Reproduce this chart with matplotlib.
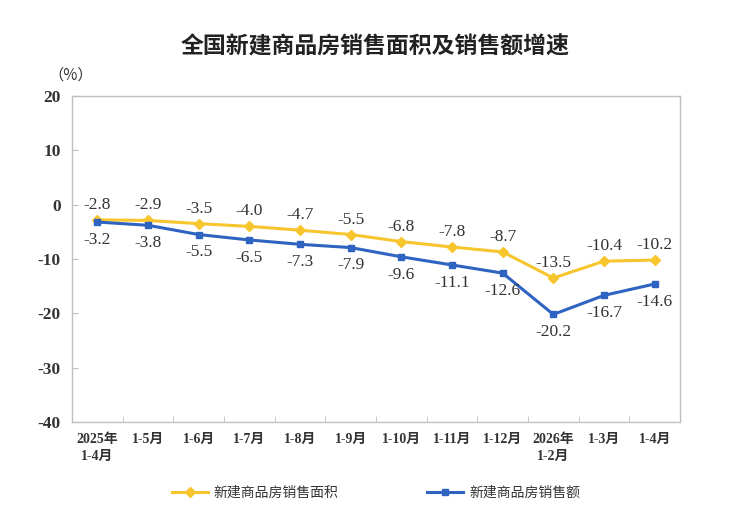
import matplotlib
matplotlib.use("Agg")
import matplotlib.pyplot as plt
import numpy as np

plt.rcParams['font.family'] = ['Liberation Serif', 'Noto Sans CJK SC']

categories = ["2025年\n1-4月", "1-5月", "1-6月", "1-7月", "1-8月", "1-9月", "1-10月",
              "1-11月", "1-12月", "2026年\n1-2月", "1-3月", "1-4月"]
area = [-2.8, -2.9, -3.5, -4.0, -4.7, -5.5, -6.8, -7.8, -8.7, -13.5, -10.4, -10.2]
sales = [-3.2, -3.8, -5.5, -6.5, -7.3, -7.9, -9.6, -11.1, -12.6, -20.2, -16.7, -14.6]
series_names = ["新建商品房销售面积", "新建商品房销售额"]
title = "全国新建商品房销售面积及销售额增速"
yticks = [-40, -30, -20, -10, 0, 10, 20]

yellow = "#F7C52E"
blue = "#2F63C1"
txt = "#333333"
grid = "#BFBFBF"

fig = plt.figure(figsize=(7.4, 5.28), dpi=100)
ax = fig.add_axes([0.0973, 0.2008, 0.8216, 0.6174])
x = np.arange(len(categories))

ax.plot(x, area, color=yellow, lw=2.2, marker="D", ms=5, label=series_names[0], zorder=3)
ax.plot(x, sales, color=blue, lw=2.2, marker="s", ms=5, label=series_names[1], zorder=3)

for xi, v in zip(x, area):
    ax.annotate(f"{v:.1f}", (xi, v), xytext=(0, 5), textcoords="offset points",
                ha="center", va="bottom", fontsize=12.5, color=txt)
for xi, v in zip(x, sales):
    ax.annotate(f"{v:.1f}", (xi, v), xytext=(0, -7), textcoords="offset points",
                ha="center", va="top", fontsize=12.5, color=txt)

ax.set_xlim(-0.5, len(categories) - 0.5)
ax.set_ylim(-40, 20)
ax.set_yticks(yticks)
ax.set_yticklabels([str(t) for t in yticks], fontsize=12.5,
                   fontweight="bold", color=txt)
ax.set_xticks(x)
ax.set_xticklabels(categories, fontsize=10, color=txt, fontweight="bold", linespacing=1.4)
ax.set_xticks(np.arange(0.5, len(categories) - 0.5, 1), minor=True)
ax.tick_params(axis="x", which="major", length=0, pad=8)
ax.tick_params(axis="x", which="minor", direction="in", length=4, color=grid)
ax.tick_params(axis="y", direction="in", length=4, color=grid, pad=8)
for s in ax.spines.values():
    s.set_color(grid)
    s.set_linewidth(1.0)

fig.text(0.507, 0.91, title, ha="center", va="center", fontsize=16.5, fontweight="bold", color="#222222")
fig.text(0.096, 0.858, "（%）", ha="center", va="center", fontsize=11, color=txt,
         family=["Noto Sans CJK SC", "DejaVu Sans"])

ax.legend(loc="upper center", bbox_to_anchor=(0.50, -0.16), ncol=2, frameon=False,
          fontsize=10, columnspacing=6.4, handlelength=2.6, handletextpad=0.4, labelcolor=txt)

fig.savefig("out.png", dpi=100)
